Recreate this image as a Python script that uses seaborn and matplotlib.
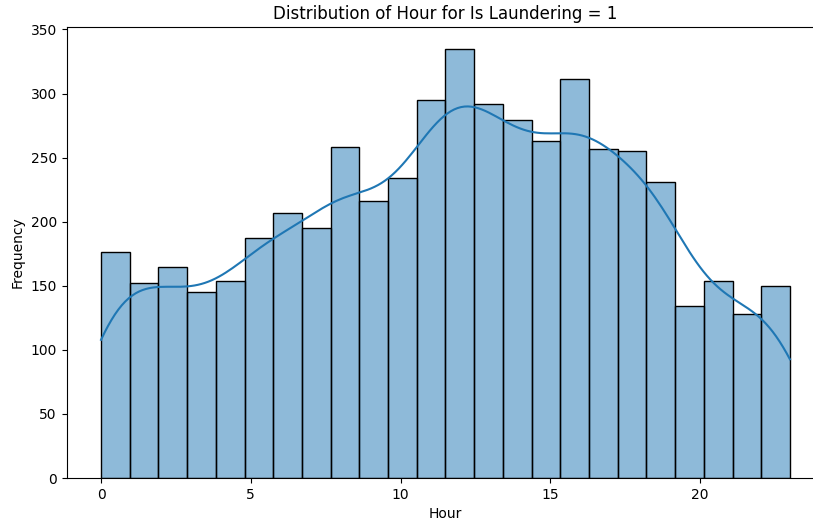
import numpy as np
import pandas as pd
import matplotlib
matplotlib.use("Agg")
import matplotlib.pyplot as plt
import seaborn as sns

hours = list(range(24))
counts = [176, 152, 165, 145, 154, 187, 207, 195, 258, 216, 234, 295,
          335, 292, 279, 263, 311, 257, 255, 231, 134, 154, 128, 150]

df = pd.DataFrame({"Hour": np.repeat(hours, counts)})

fig, ax = plt.subplots(figsize=(8.13, 5.23), dpi=100)
fig.subplots_adjust(left=0.0819, right=1.014, top=0.948, bottom=0.086)
sns.histplot(data=df, x="Hour", bins=24, kde=True, ax=ax)
ax.set_title("Distribution of Hour for Is Laundering = 1")
ax.set_xlabel("Hour")
ax.set_ylabel("Frequency")
fig.savefig("out.png", dpi=100)
